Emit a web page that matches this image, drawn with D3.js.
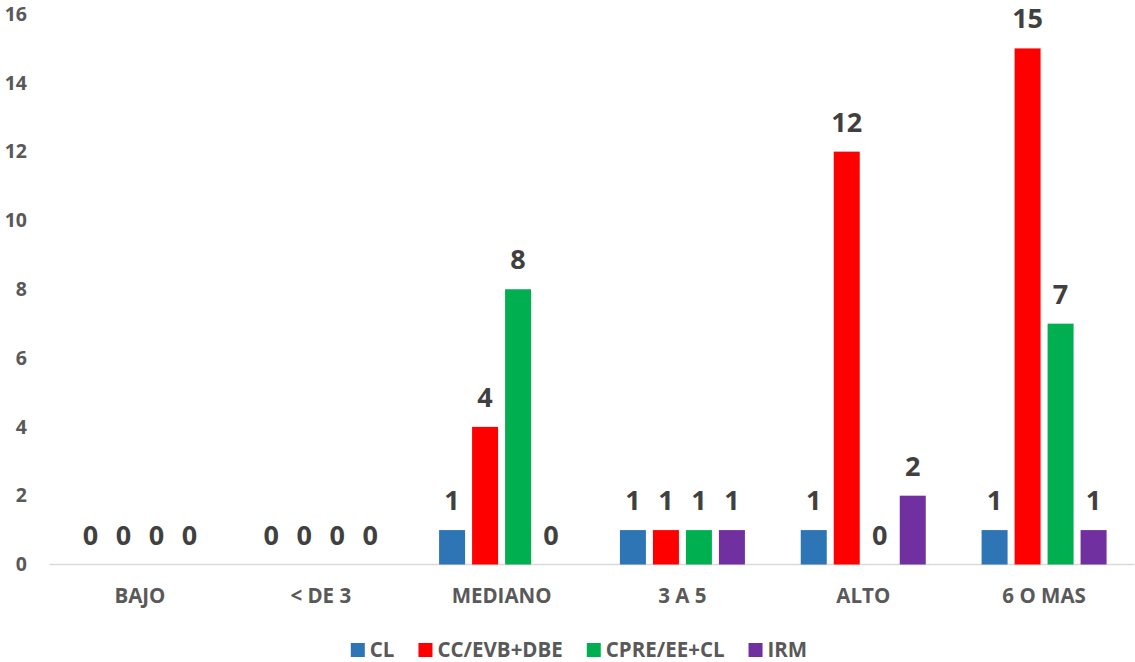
<!DOCTYPE html>
<html><head><meta charset="utf-8">
<script src="https://cdn.jsdelivr.net/npm/d3@7"></script>
<style>
html,body{margin:0;padding:0;background:#fff;}
svg{display:block;font-family:"Open Sans","Liberation Sans",sans-serif;font-weight:700;}
</style></head>
<body>
<svg id="chart" width="1135" height="662"></svg>
<script>
const categories = ["BAJO", "< DE 3", "MEDIANO", "3 A 5", "ALTO", "6 O MAS"];
const seriesNames = ["CL", "CC/EVB+DBE", "CPRE/EE+CL", "IRM"];
const seriesColors = ["#2E75B6", "#FF0000", "#00B050", "#7030A0"];
const valuesCL   = [0, 0, 1, 1, 1, 1];
const valuesCC   = [0, 0, 4, 1, 12, 15];
const valuesCPRE = [0, 0, 8, 1, 0, 7];
const valuesIRM  = [0, 0, 0, 1, 2, 1];
const yTicks = [0, 2, 4, 6, 8, 10, 12, 14, 16];

const seriesValues = [valuesCL, valuesCC, valuesCPRE, valuesIRM];
const svg = d3.select("#chart");

const x0 = d3.scaleBand().domain(categories).range([49.5, 1134.5]);
const groupW = 125;
const x1 = d3.scaleBand().domain(seriesNames).range([0, groupW]).paddingInner(7/33);
const y = d3.scaleLinear().domain([0, 16]).range([564.5, 14]);

// y tick labels
const yAxis = d3.axisLeft(y).tickValues(yTicks).tickSize(0).tickPadding(0);
const gy = svg.append("g").attr("transform", "translate(27,0)").call(yAxis);
gy.select(".domain").remove();
gy.selectAll("text").attr("fill", "#595959").style("font-size", "19.5px")
  .style("font-family", "'Open Sans',sans-serif").style("font-weight", "700");

// baseline
svg.append("line").attr("x1", 49.5).attr("x2", 1134.5)
  .attr("y1", y(0)).attr("y2", y(0)).attr("stroke", "#D9D9D9").attr("stroke-width", 1.5);

// x axis labels
const xAxis = d3.axisBottom(x0).tickSize(0).tickPadding(0);
const gx = svg.append("g").attr("transform", "translate(0,603)").call(xAxis);
gx.select(".domain").remove();
gx.selectAll("text").attr("fill", "#595959").attr("dy", "0").style("font-size", "20.5px")
  .style("font-family", "'Open Sans',sans-serif").style("font-weight", "700");

// bars
const groups = svg.append("g").selectAll("g").data(categories).join("g")
  .attr("transform", d => `translate(${x0(d) + (x0.bandwidth() - groupW) / 2},0)`);

groups.each(function(cat, ci) {
  const g = d3.select(this);
  seriesNames.forEach((s, si) => {
    const v = seriesValues[si][ci];
    if (v > 0) {
      g.append("rect").attr("x", x1(s)).attr("width", x1.bandwidth())
        .attr("y", y(v)).attr("height", y(0) - y(v)).attr("fill", seriesColors[si]);
    }
    g.append("text").attr("x", x1(s) + x1.bandwidth() / 2).attr("y", y(v) - 20)
      .attr("text-anchor", "middle").attr("fill", "#404040")
      .style("font-size", "27px").text(v);
  });
});

// legend
const legend = svg.append("g");
let lx = 0;
seriesNames.forEach((s, i) => {
  const it = legend.append("g");
  it.append("rect").attr("x", 0).attr("y", 643).attr("width", 14).attr("height", 14).attr("fill", seriesColors[i]);
  const t = it.append("text").attr("x", 19).attr("y", 657).attr("fill", "#595959")
    .style("font-size", "20.5px").text(s);
  const w = 19 + t.node().getComputedTextLength();
  it.attr("transform", `translate(${lx},0)`);
  lx += w + 24;
});
const totalW = lx - 24;
legend.attr("transform", `translate(${579 - totalW / 2},0)`);
</script>
</body></html>
